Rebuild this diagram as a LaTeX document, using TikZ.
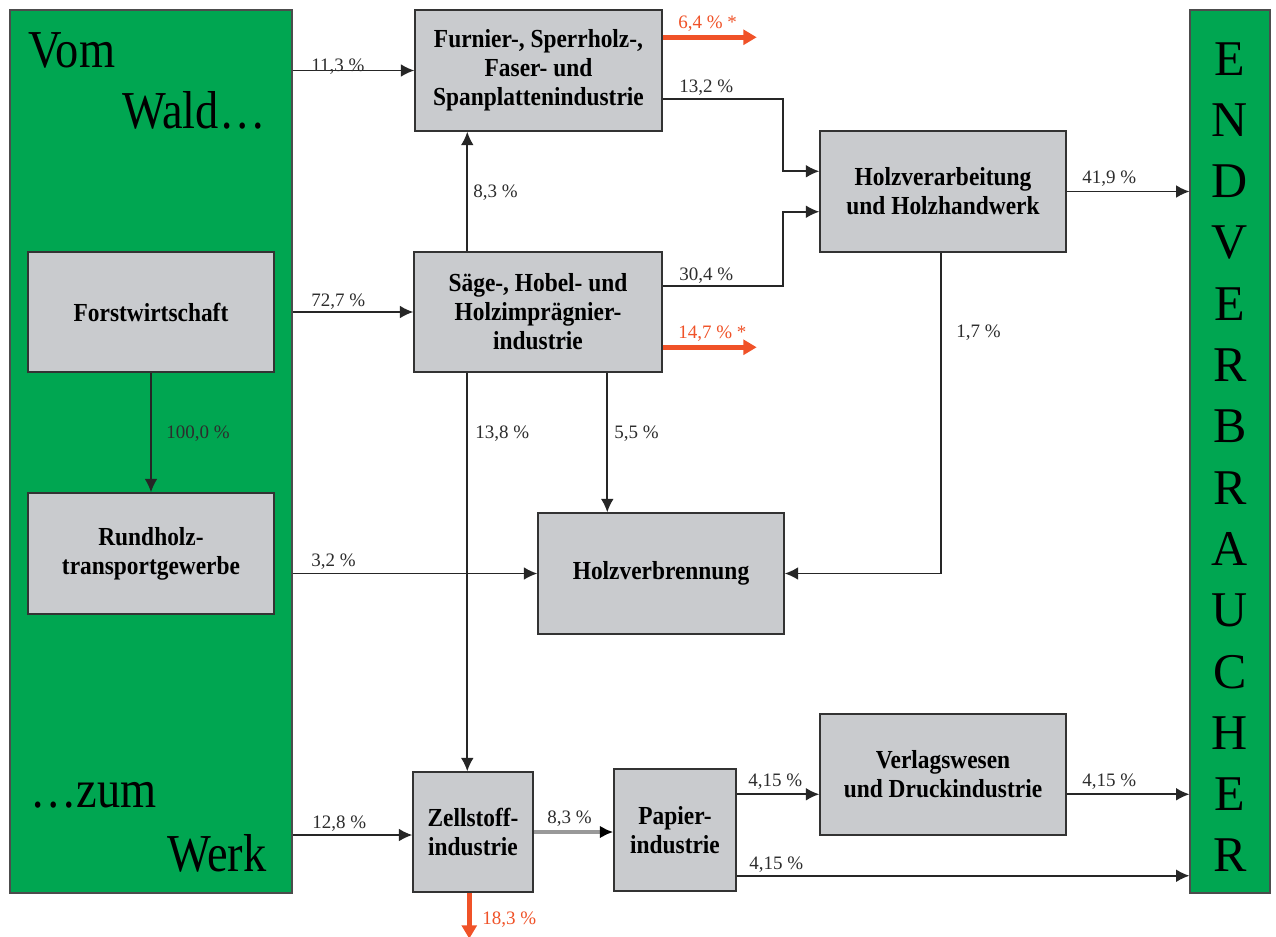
\documentclass[tikz,border=0pt]{standalone}
\usepackage{fontspec}
\setmainfont{Liberation Serif}
\newfontfamily\boxfont[FakeStretch=0.9]{Liberation Serif}
\newfontfamily\bigfont[FakeStretch=0.87]{Liberation Serif}
\usetikzlibrary{arrows.meta,calc}
\definecolor{forest}{RGB}{0,166,81}
\definecolor{boxgray}{RGB}{201,203,206}
\definecolor{redarrow}{RGB}{240,82,40}
\definecolor{labelgray}{RGB}{45,45,45}
\tikzset{
  panel/.style={draw=black!70, line width=0.8pt, fill=forest, inner sep=0pt},
  gbox/.style={draw=black!80, line width=1.1pt, fill=boxgray, inner sep=2pt, align=center,
     font=\boxfont\bfseries\fontsize{19.5pt}{21.75pt}\selectfont},
  arr/.style={line width=1.2pt, black!85, -{Latex[length=10pt,width=9.5pt]}},
  redarr/.style={line width=3.6pt, redarrow, -{Triangle[length=10pt,width=11pt]}},
  pct/.style={anchor=base west, inner sep=0pt, text=labelgray, font=\fontsize{14.25pt}{16pt}\selectfont},
  redpct/.style={pct, text=redarrow},
  bigtxt/.style={anchor=base west, inner sep=0pt, font=\bigfont\fontsize{40pt}{42pt}\selectfont},
  letter/.style={anchor=base, inner sep=0pt, font=\fontsize{37.5pt}{40pt}\selectfont}
}
\begin{document}
\begin{tikzpicture}[x=0.75pt,y=-0.75pt]
\fill[white] (0,0) rectangle (1276,936);
\useasboundingbox (0,0) rectangle (1276,936);

% green panels
\node[panel, minimum width=282*0.75pt, minimum height=883*0.75pt] (lg) at (151,451.5) {};
\node[panel, minimum width=80*0.75pt, minimum height=883*0.75pt] (rg) at (1230,451.5) {};

% big texts
\node[bigtxt] (tvom) at (28,67) {Vom};
\node[bigtxt] (twald) at (122,128) {Wald…};
\node[bigtxt] (tzum) at (30,807) {…zum};
\node[bigtxt] (twerk) at (167,871) {Werk};

\foreach \L [count=\i from 0] in {E,N,D,V,E,R,B,R,A,U,C,H,E,R}{
  \node[letter] (ev\i) at (1230,{75+61.3*\i}) {\L};
}

% boxes
\node[gbox, minimum width=247*0.75pt, minimum height=121*0.75pt] (furn) at (538.5,70.5)
  {Furnier-, Sperrholz-,\\Faser- und\\Spanplattenindustrie};
\node[gbox, minimum width=248*0.75pt, minimum height=120*0.75pt] (saege) at (538,312)
  {Säge-, Hobel- und\\Holzimprägnier-\\industrie};
\node[gbox, minimum width=246*0.75pt, minimum height=120*0.75pt] (forst) at (151,312)
  {Forstwirtschaft};
\node[gbox, minimum width=246*0.75pt, minimum height=121*0.75pt] (rund) at (151,553.5)
  {Rundholz-\\transportgewerbe};
\node[gbox, minimum width=246*0.75pt, minimum height=121*0.75pt] (holzv) at (943,191.5)
  {Holzverarbeitung\\und Holzhandwerk};
\node[gbox, minimum width=246*0.75pt, minimum height=121*0.75pt] (brenn) at (661,573.5)
  {Holzverbrennung};
\node[gbox, minimum width=120*0.75pt, minimum height=120*0.75pt] (zell) at (473,832)
  {Zellstoff-\\industrie};
\node[gbox, minimum width=122*0.75pt, minimum height=122*0.75pt] (papier) at (675,830)
  {Papier-\\industrie};
\node[gbox, minimum width=246*0.75pt, minimum height=121*0.75pt] (verlag) at (943,774.5)
  {Verlagswesen\\und Druckindustrie};

% connectors
\draw[arr] (furn.west -| lg.east) -- (furn.west);
\draw[arr] (saege.west -| lg.east) -- (saege.west);
\coordinate (v83) at ($(saege.north west)+(54,0)$);
\draw[arr] (v83) -- (v83 |- furn.south);
\draw[arr] ($(furn.south east)+(0,-33)$) -| ($(holzv.north west)+(-36,41)$) -- ($(holzv.north west)+(0,41)$);
\draw[arr] ($(saege.north east)+(0,35)$) -| ($(holzv.south west)+(-36,-41)$) -- ($(holzv.south west)+(0,-41)$);
\draw[arr] (holzv.east) -- (holzv.east -| rg.west);
\draw[arr] ($(holzv.south west)+(122,0)$) |- (brenn.east);
\draw[arr] (forst.south) -- (rund.north);
\coordinate (v138) at ($(saege.south west)+(54,0)$);
\draw[arr] (v138) -- (v138 |- zell.north);
\coordinate (v55) at ($(saege.south west)+(194,0)$);
\draw[arr] (v55) -- (v55 |- brenn.north);
\draw[arr] (brenn.west -| lg.east) -- (brenn.west);
\coordinate (z128) at ($(zell.west)+(0,3)$);
\draw[arr] (z128 -| lg.east) -- (z128);
\draw[line width=2.6pt, black!40, -{Latex[length=10pt,width=9.5pt,black]}] (zell.east) -- (zell.east -| papier.west);
\coordinate (p1) at ($(papier.north east)+(0,26)$);
\draw[arr] (p1) -- (p1 -| verlag.west);
\coordinate (p2) at ($(verlag.north east)+(0,81)$);
\draw[arr] (p2) -- (p2 -| rg.west);
\coordinate (p3) at ($(papier.south east)+(0,-16)$);
\draw[arr] (p3) -- (p3 -| rg.west);

% red outflows
\coordinate (r1s) at ($(furn.north east)+(0,28)$);
\coordinate (r1e) at ($(r1s)+(94,0)$);
\draw[redarr] (r1s) -- (r1e);
\coordinate (r2s) at ($(saege.north east)+(0,96)$);
\coordinate (r2e) at ($(r2s)+(94,0)$);
\draw[redarr] (r2s) -- (r2e);
\coordinate (r3s) at ($(zell.south west)+(57,0)$);
\coordinate (r3e) at ($(r3s)+(0,46)$);
\draw[redarr] (r3s) -- (r3e);

% labels
\node[pct] (l113) at (311,71) {11,3 \%};
\node[pct] (l727) at (311,306) {72,7 \%};
\node[pct] (l83a) at (473,197) {8,3 \%};
\node[pct] (l132) at (679,92) {13,2 \%};
\node[pct] (l304) at (679,280) {30,4 \%};
\node[redpct] (l64) at (678,28) {6,4 \% *};
\node[redpct] (l147) at (678,338) {14,7 \% *};
\node[pct] (l419) at (1082,183) {41,9 \%};
\node[pct] (l17) at (956,337) {1,7 \%};
\node[pct] (l100) at (166,438) {100,0 \%};
\node[pct] (l138) at (475,438) {13,8 \%};
\node[pct] (l55) at (614,438) {5,5 \%};
\node[pct] (l32) at (311,566) {3,2 \%};
\node[pct] (l128) at (312,828) {12,8 \%};
\node[pct] (l83b) at (547,823) {8,3 \%};
\node[redpct] (l183) at (482,924) {18,3 \%};
\node[pct] (l415a) at (748,786) {4,15 \%};
\node[pct] (l415b) at (1082,786) {4,15 \%};
\node[pct] (l415c) at (749,869) {4,15 \%};
\end{tikzpicture}
\end{document}
